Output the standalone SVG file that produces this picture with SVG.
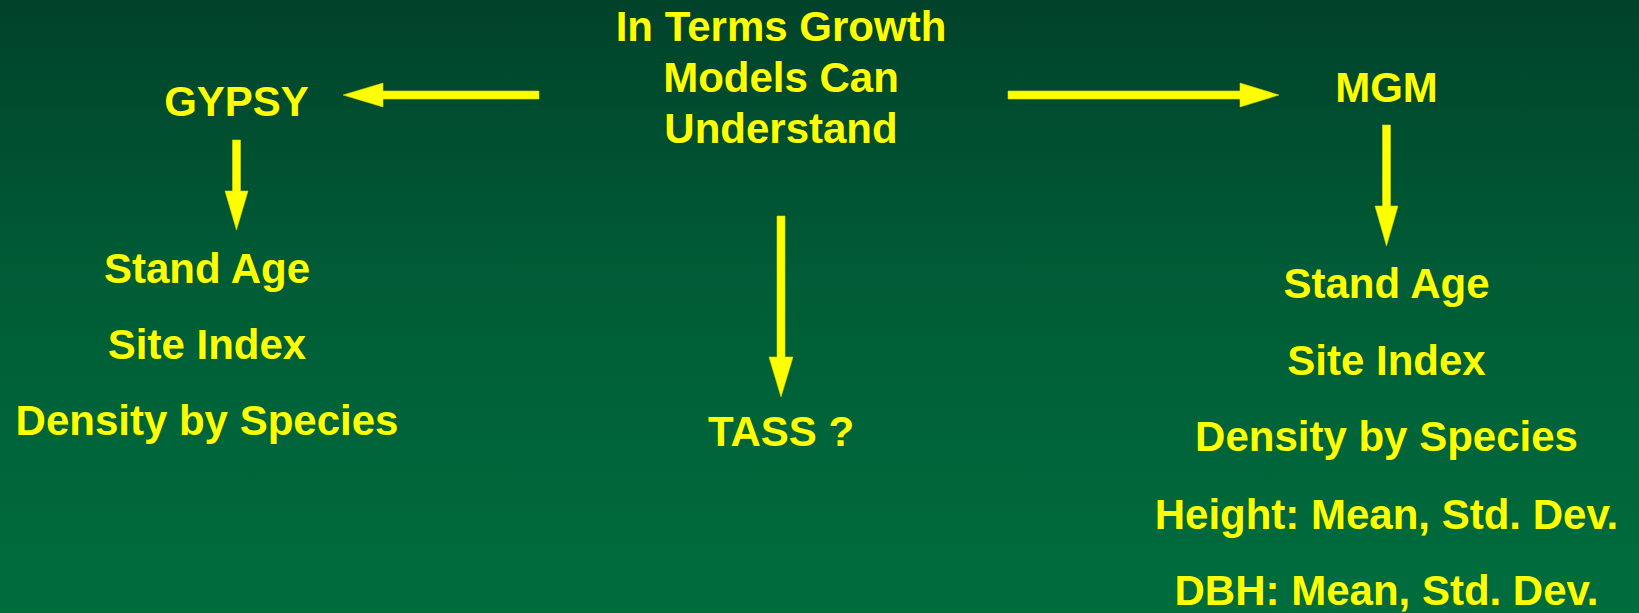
<svg xmlns="http://www.w3.org/2000/svg" width="1639" height="613" viewBox="0 0 1639 613">
<defs>
<linearGradient id="bg" x1="0" y1="0" x2="0" y2="1">
<stop offset="0" stop-color="#00422a"/>
<stop offset="0.45" stop-color="#005c36"/>
<stop offset="1" stop-color="#006d3d"/>
</linearGradient>
<style>
text{font-family:"Liberation Sans",Arial,sans-serif;font-weight:bold;font-size:42px;fill:#ffff00;text-anchor:middle}
.arrow{fill:#ffff00;stroke:#d8d800;stroke-width:0.6}
</style>
</defs>
<rect width="1639" height="613" fill="url(#bg)"/>
<g id="connectors">
<polygon class="arrow" points="539,91 383,91 383,83 343,95 383,107 383,99 539,99"/>
<polygon class="arrow" points="1008,91 1240,91 1240,83 1279,95 1240,107 1240,99 1008,99"/>
<polygon class="arrow" points="232.5,140 240.5,140 240.5,191 248,191 236.5,230 225,191 232.5,191"/>
<polygon class="arrow" points="777,216 785,216 785,357 793,357 781,397 769,357 777,357"/>
<polygon class="arrow" points="1382.5,125 1390.5,125 1390.5,206 1398,206 1386.5,246 1375,206 1382.5,206"/>
</g>
<g id="center">
<text x="781" y="41">In Terms Growth</text>
<text x="781" y="92">Models Can</text>
<text x="781" y="143">Understand</text>
</g>
<g id="gypsy">
<text x="236.5" y="116">GYPSY</text>
</g>
<g id="gypsy-inputs">
<text x="207" y="283">Stand Age</text>
<text x="207" y="359">Site Index</text>
<text x="207" y="435">Density by Species</text>
</g>
<g id="tass">
<text x="781" y="446">TASS ?</text>
</g>
<g id="mgm">
<text x="1386.5" y="102">MGM</text>
</g>
<g id="mgm-inputs">
<text x="1386.5" y="298">Stand Age</text>
<text x="1386.5" y="375">Site Index</text>
<text x="1386.5" y="451">Density by Species</text>
<text x="1386.5" y="529">Height: Mean, Std. Dev.</text>
<text x="1386.5" y="605">DBH: Mean, Std. Dev.</text>
</g>
</svg>
